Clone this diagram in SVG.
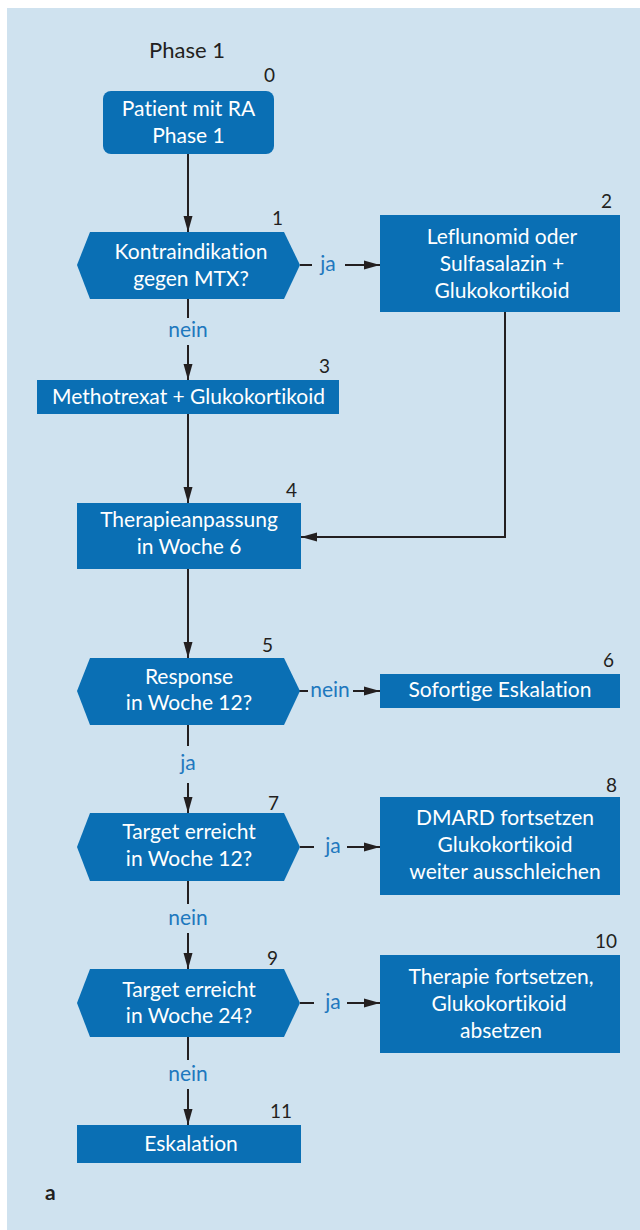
<svg xmlns="http://www.w3.org/2000/svg" width="640" height="1230" viewBox="0 0 640 1230">
<defs>
<style>
.bg{fill:#cfe2ef}
.nd{fill:#0a6fb4}
text{font-variant-ligatures:none;font-feature-settings:"liga" 0,"dlig" 0}
.t{font-family:Lato,"Liberation Sans",sans-serif;font-size:21px;fill:#ffffff;text-anchor:middle}
.num{font-family:Lato,"Liberation Sans",sans-serif;font-size:19px;fill:#231f20;text-anchor:end}
.lbl{font-family:Lato,"Liberation Sans",sans-serif;font-size:21px;fill:#1e78be;text-anchor:middle}
.c{fill:none;stroke:#231f20;stroke-width:2}
.a{marker-end:url(#ah)}
</style>
<marker id="ah" markerUnits="userSpaceOnUse" markerWidth="17" markerHeight="10" refX="16" refY="5" orient="auto">
<path d="M0,0.5 L16,5 L0,9.5 z" fill="#231f20"/>
</marker>
</defs>
<rect class="bg" x="7" y="8" width="633" height="1222"/>
<text x="187" y="58" style="font-family:Lato,'Liberation Sans',sans-serif;font-size:22px;fill:#231f20;text-anchor:middle">Phase 1</text>

<g id="connectors">
<path class="c a" d="M188,154 V232"/>
<path class="c" d="M300,265 H312"/>
<path class="c a" d="M345,265 H380"/>
<path class="c" d="M188,299 V318"/>
<path class="c a" d="M188,345 V380"/>
<path class="c a" d="M188,414 V503"/>
<path class="c a" d="M505,312 V537 H301"/>
<path class="c a" d="M188,569 V658"/>
<path class="c" d="M299,691 H308"/>
<path class="c a" d="M353,691 H380"/>
<path class="c" d="M188,725 V746"/>
<path class="c a" d="M188,783 V813"/>
<path class="c" d="M300,847 H314"/>
<path class="c a" d="M347,847 H380"/>
<path class="c" d="M188,881 V904"/>
<path class="c a" d="M188,933 V969"/>
<path class="c" d="M300,1003 H314"/>
<path class="c a" d="M347,1003 H380"/>
<path class="c" d="M188,1037 V1060"/>
<path class="c a" d="M188,1089 V1125"/>
<text class="lbl" x="328" y="271">ja</text>
<text class="lbl" x="188" y="337">nein</text>
<text class="lbl" x="330" y="697">nein</text>
<text class="lbl" x="188" y="770">ja</text>
<text class="lbl" x="333" y="853">ja</text>
<text class="lbl" x="188" y="925">nein</text>
<text class="lbl" x="333" y="1009">ja</text>
<text class="lbl" x="188" y="1081">nein</text>
</g>

<g id="node0">
<rect class="nd" x="103" y="91" width="171" height="63" rx="8"/>
<text class="t" x="188.5" y="116">Patient mit RA</text>
<text class="t" x="188.5" y="143">Phase 1</text>
<text class="num" x="275" y="82">0</text>
</g>
<g id="node1">
<polygon class="nd" points="77,265 90,232 284,232 300,265 284,299 90,299"/>
<text class="t" x="191" y="259">Kontraindikation</text>
<text class="t" x="191" y="286">gegen MTX?</text>
<text class="num" x="283" y="225">1</text>
</g>
<g id="node2">
<rect class="nd" x="380" y="215" width="240" height="97"/>
<text class="t" x="502" y="244">Leflunomid oder</text>
<text class="t" x="502" y="271">Sulfasalazin +</text>
<text class="t" x="502" y="298">Glukokortikoid</text>
<text class="num" x="612" y="208">2</text>
</g>
<g id="node3">
<rect class="nd" x="37" y="380" width="302" height="34"/>
<text class="t" x="188.5" y="404">Methotrexat + Glukokortikoid</text>
<text class="num" x="330" y="373">3</text>
</g>
<g id="node4">
<rect class="nd" x="77" y="503" width="224" height="66"/>
<text class="t" x="189" y="527">Therapieanpassung</text>
<text class="t" x="189" y="554">in Woche 6</text>
<text class="num" x="297" y="497">4</text>
</g>
<g id="node5">
<polygon class="nd" points="77,691 90,658 284,658 300,691 284,725 90,725"/>
<text class="t" x="189" y="684">Response</text>
<text class="t" x="189" y="710">in Woche 12?</text>
<text class="num" x="273" y="652">5</text>
</g>
<g id="node6">
<rect class="nd" x="380" y="674" width="240" height="34"/>
<text class="t" x="500" y="697">Sofortige Eskalation</text>
<text class="num" x="614" y="667">6</text>
</g>
<g id="node7">
<polygon class="nd" points="77,847 90,813 284,813 300,847 284,881 90,881"/>
<text class="t" x="189" y="839">Target erreicht</text>
<text class="t" x="189" y="866">in Woche 12?</text>
<text class="num" x="279" y="810">7</text>
</g>
<g id="node8">
<rect class="nd" x="380" y="797" width="240" height="98"/>
<text class="t" x="505" y="825">DMARD fortsetzen</text>
<text class="t" x="505" y="852">Glukokortikoid</text>
<text class="t" x="505" y="879">weiter ausschleichen</text>
<text class="num" x="617" y="792">8</text>
</g>
<g id="node9">
<polygon class="nd" points="77,1003 90,969 284,969 300,1003 284,1037 90,1037"/>
<text class="t" x="189" y="997">Target erreicht</text>
<text class="t" x="189" y="1023">in Woche 24?</text>
<text class="num" x="278" y="965">9</text>
</g>
<g id="node10">
<rect class="nd" x="380" y="955" width="240" height="98"/>
<text class="t" x="501" y="984">Therapie fortsetzen,</text>
<text class="t" x="499" y="1011">Glukokortikoid</text>
<text class="t" x="501" y="1038">absetzen</text>
<text class="num" x="617" y="948">10</text>
</g>
<g id="node11">
<rect class="nd" x="77" y="1125" width="224" height="38"/>
<text class="t" x="191" y="1151">Eskalation</text>
<text class="num" x="292" y="1118">11</text>
</g>
<text x="45" y="1200" style="font-family:Lato,'Liberation Sans',sans-serif;font-size:21px;font-weight:bold;fill:#231f20">a</text>
</svg>
